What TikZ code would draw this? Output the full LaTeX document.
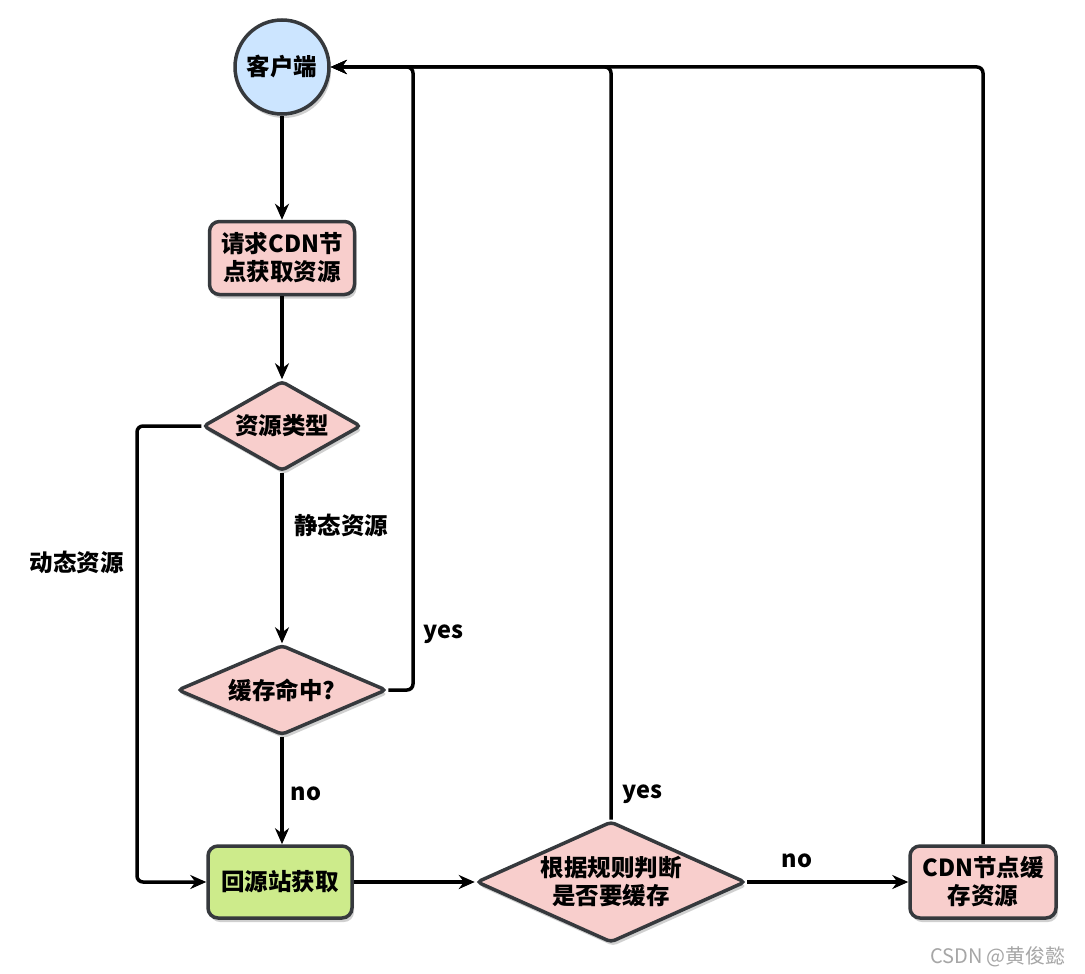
\documentclass[tikz,border=0pt]{standalone}
\usepackage{fontspec}
\setmainfont{Noto Sans CJK SC}
\usetikzlibrary{shapes.geometric,arrows.meta,shadows}
\definecolor{strokec}{HTML}{36393D}
\definecolor{bluef}{HTML}{CCE5FF}
\definecolor{pinkf}{HTML}{F8CECC}
\definecolor{greenf}{HTML}{CDEB8B}
\begin{document}
\begin{tikzpicture}[x=1pt,y=-1pt,
  font=\fontsize{23.5}{28}\selectfont\bfseries,
  shad/.style={drop shadow={shadow xshift=2pt,shadow yshift=-4pt,opacity=0.3,fill=black!60}},
  base/.style={draw=strokec,line width=3.5pt,shad,align=center,inner sep=0pt},
  rbox/.style={base,rectangle,rounded corners=10pt,minimum width=145pt,minimum height=73pt},
  dia/.style={base,diamond,rounded corners=4pt,aspect=2},
  flow/.style={line width=3.5pt,-{Stealth[length=16pt,width=14pt]},rounded corners=6pt},
  lbl/.style={inner sep=0pt}]
\useasboundingbox (0,0) rectangle (1085,974);
\fill[white] (0,0) rectangle (1085,974);
\node[base,circle,fill=bluef,minimum size=94pt] (client) at (282,67) {客户端};
\node[rbox,fill=pinkf] (req) at (282,258) {请求CDN节\\点获取资源};
\node[dia,fill=pinkf,minimum width=158pt,minimum height=90pt] (type) at (282,426) {资源类型};
\node[dia,fill=pinkf,minimum width=209pt,minimum height=90pt] (hit) at (282,690) {缓存命中?};
\node[rbox,fill=greenf,minimum width=144pt,minimum height=72pt] (origin) at (280,882) {回源站获取};
\node[dia,fill=pinkf,minimum width=269pt,minimum height=116pt] (rule) at (611,882) {根据规则判断\\是否要缓存};
\node[rbox,fill=pinkf,minimum width=146pt,minimum height=72pt] (cache) at (983,882) {CDN节点缓\\存资源};
\coordinate (a1) at (413,690);
\coordinate (a2) at (413,67);
\coordinate (b2) at (611,67);
\coordinate (c2) at (983,67);
\coordinate (d1) at (137,426);
\coordinate (d2) at (137,882);
\draw[flow] (client) -- (req);
\draw[flow] (req) -- (type);
\draw[flow] (type) -- (hit);
\draw[flow] (type.west) -- (d1) -- (d2) -- (origin.west);
\draw[flow] (hit.east) -- (a1) -- (a2) -- (client.east);
\draw[flow] (hit.south) -- (hit.south |- origin.north);
\draw[flow] (origin) -- (rule);
\draw[flow] (rule.north) -- (b2) -- (client.east);
\draw[flow] (rule) -- (cache);
\draw[flow] (cache.north) -- (c2) -- (client.east);
\node[lbl] (l1) at (341,525) {静态资源};
\node[lbl] (l2) at (77,562) {动态资源};
\node[lbl] (l3) at (443,634) {yes};
\node[lbl] (l4) at (306,794) {no};
\node[lbl] (l5) at (642,794) {yes};
\node[lbl] (l6) at (797,861) {no};
\node[lbl,font=\fontsize{20}{24}\selectfont,text=black!35] (wm) at (998,957) {CSDN @黄俊懿};
\end{tikzpicture}
\end{document}
